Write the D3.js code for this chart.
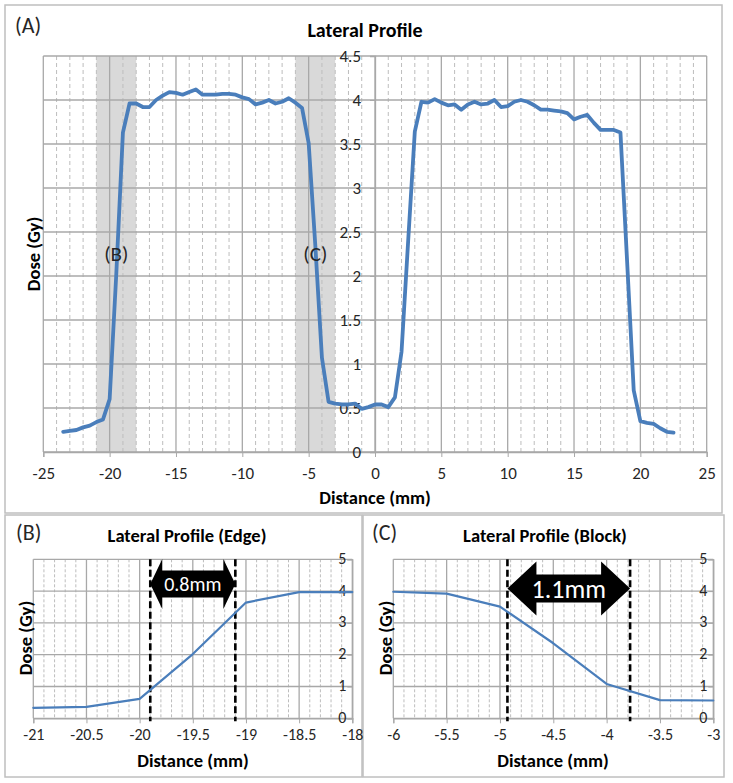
<!DOCTYPE html>
<html><head><meta charset="utf-8">
<script src="https://cdn.jsdelivr.net/npm/d3@7"></script>
<style>
body{margin:0;background:#fff;}
text{font-family:Carlito, Lato, "Open Sans", sans-serif;}
</style></head><body>
<svg id="chart" width="733" height="783"></svg>
<script>
// ---- data ----
const distance = [-23.5,-23,-22.5,-22,-21.5,-21,-20.5,-20,-19.5,-19,-18.5,-18,-17.5,-17,-16.5,-16,-15.5,-15,-14.5,-14,-13.5,-13,-12.5,-12,-11.5,-11,-10.5,-10,-9.5,-9,-8.5,-8,-7.5,-7,-6.5,-6,-5.5,-5,-4.5,-4,-3.5,-3,-2.5,-2,-1.5,-1,-0.5,0,0.5,1,1.5,2,2.5,3,3.5,4,4.5,5,5.5,6,6.5,7,7.5,8,8.5,9,9.5,10,10.5,11,11.5,12,12.5,13,13.5,14,14.5,15,15.5,16,16.5,17,17.5,18,18.5,19,19.5,20,20.5,21,21.5,22,22.5];
const dose = [0.23,0.24,0.25,0.28,0.30,0.34,0.37,0.60,2.02,3.63,3.96,3.96,3.92,3.92,4.00,4.05,4.09,4.08,4.06,4.09,4.12,4.06,4.06,4.06,4.07,4.07,4.06,4.03,4.01,3.95,3.97,4.00,3.96,3.98,4.02,3.97,3.91,3.51,2.35,1.07,0.57,0.55,0.54,0.54,0.55,0.49,0.51,0.54,0.54,0.51,0.62,1.14,2.40,3.64,3.98,3.97,4.01,3.97,3.94,3.95,3.89,3.95,3.98,3.95,3.96,4.00,3.92,3.93,3.98,4.00,3.98,3.94,3.89,3.89,3.88,3.87,3.85,3.78,3.81,3.83,3.74,3.66,3.66,3.66,3.63,2.17,0.70,0.35,0.33,0.32,0.27,0.23,0.22];
const shadedRegions = [[-21,-18],[-6,-3]];
const regionLabels = ["(B)","(C)"];
const regionLabelDose = 2.25;

const edgeDistance = [-21,-20.5,-20,-19.5,-19,-18.5,-18];
const edgeDose = [0.33,0.36,0.61,2.02,3.64,3.97,3.97];
const edgeMarkers = [-19.9,-19.1];
const edgeWidthLabel = "0.8mm";

const blockDistance = [-6,-5.5,-5,-4.5,-4,-3.5,-3];
const blockDose = [3.98,3.92,3.51,2.36,1.08,0.57,0.56];
const blockMarkers = [-4.93,-3.78];
const blockWidthLabel = "1.1mm";

const xTicksA = [-25,-20,-15,-10,-5,0,5,10,15,20,25];
const xMinorA = d3.range(-24,25,1);
const yTicksA = [0,0.5,1,1.5,2,2.5,3,3.5,4,4.5];
const xTicksB = [-21,-20.5,-20,-19.5,-19,-18.5,-18];
const xTicksC = [-6,-5.5,-5,-4.5,-4,-3.5,-3];
const yTicksBC = [0,1,2,3,4,5];

// ---- drawing ----
const svg = d3.select("#chart");
const LINE = "#4a7ebb";
const MAJ = "#a8a8a8", MIN = "#bdbdbd";
const TXT = "#262626";
const FONT = "Carlito, Lato, sans-serif";

function frame(x0,y0,x1,y1){
  svg.append("rect").attr("x",x0).attr("y",y0).attr("width",x1-x0).attr("height",y1-y0)
    .attr("fill","#fff").attr("stroke","#bfbfbf").attr("stroke-width",1.5);
}
function label(x,y,t,size,bold,opts={}){
  const el = svg.append("text").attr("fill",bold?"#000":TXT)
    .style("font-size",size+"px").style("font-weight",bold?"bold":"normal").text(t);
  if(opts.rotate){ el.attr("transform",`translate(${x},${y}) rotate(-90)`).attr("text-anchor","middle"); }
  else { el.attr("x",x).attr("y",y).attr("text-anchor",opts.anchor||"middle"); }
  return el;
}

function panel(o){
  const g = svg.append("g");
  const {x,y} = o;
  const [xa,xb] = x.domain(), [ya,yb] = y.domain();
  (o.shade||[]).forEach(r=>{
    g.append("rect").attr("x",x(r[0])).attr("y",y(yb)).attr("width",x(r[1])-x(r[0]))
      .attr("height",y(ya)-y(yb)).attr("fill","#d9d9d9");
  });
  g.selectAll(null).data(o.xMinor).enter().append("line")
    .attr("x1",d=>x(d)).attr("x2",d=>x(d)).attr("y1",y(yb)).attr("y2",y(ya))
    .attr("stroke",MIN).attr("stroke-width",1).attr("stroke-dasharray",o.minorDash);
  g.selectAll(null).data(o.xTicks).enter().append("line")
    .attr("x1",d=>x(d)).attr("x2",d=>x(d)).attr("y1",y(yb)).attr("y2",y(ya))
    .attr("stroke",MAJ).attr("stroke-width",1.3);
  g.selectAll(null).data(o.yTicks).enter().append("line")
    .attr("x1",x(xa)).attr("x2",x(xb)).attr("y1",d=>y(d)).attr("y2",d=>y(d))
    .attr("stroke",MAJ).attr("stroke-width",1.3);
  const xAxis = d3.axisBottom(x).tickValues(o.xTicks).tickSize(5).tickPadding(o.xPad)
    .tickFormat(d=>String(d));
  const ax = g.append("g").attr("transform",`translate(0,${y(0)})`).call(xAxis);
  ax.select(".domain").attr("stroke",MAJ).attr("stroke-width",1.3);
  ax.selectAll(".tick line").attr("stroke",MAJ);
  ax.selectAll("text").attr("fill",TXT).style("font-size",o.tickFont+"px").style("font-family",FONT);
  const yAxis = d3.axisLeft(y).tickValues(o.yTicks).tickSize(5).tickPadding(o.yPad)
    .tickFormat(d=>String(d));
  const ay = g.append("g").attr("transform",`translate(${x(o.yAxisAt)},0)`).call(yAxis);
  ay.select(".domain").attr("stroke",MAJ).attr("stroke-width",1.3);
  ay.selectAll(".tick line").attr("stroke",MAJ);
  ay.selectAll("text").attr("fill",TXT).style("font-size",o.tickFont+"px").style("font-family",FONT)
    .attr("dy",o.yDy||"0.32em");
  (o.markers||[]).forEach(m=>{
    g.append("line").attr("x1",x(m)).attr("x2",x(m)).attr("y1",y(yb)).attr("y2",y(ya)+3)
      .attr("stroke","#000").attr("stroke-width",2.6).attr("stroke-dasharray","7,3.5");
  });
  const data = o.xs.map((d,i)=>[d,o.ys[i]]);
  g.append("path").datum(data)
    .attr("d",d3.line().x(d=>x(d[0])).y(d=>y(d[1])))
    .attr("fill","none").attr("stroke",LINE).attr("stroke-width",o.lw)
    .attr("stroke-linejoin","round").attr("stroke-linecap","round");
  if(o.markers && o.arrow){
    const a = o.arrow;
    const L = x(o.markers[0]), R = x(o.markers[1]);
    const cy = y(a.center);
    const p = [[L,cy],[L+a.head,cy-a.hh],[L+a.head,cy-a.bh],[R-a.head,cy-a.bh],[R-a.head,cy-a.hh],
               [R,cy],[R-a.head,cy+a.hh],[R-a.head,cy+a.bh],[L+a.head,cy+a.bh],[L+a.head,cy+a.hh]];
    g.append("path").attr("d","M"+p.map(q=>q.join(",")).join("L")+"Z").attr("fill","#000");
    g.append("text").attr("x",(L+R)/2).attr("y",cy+a.dy).attr("text-anchor","middle")
      .attr("fill","#fff").style("font-size",a.font+"px").text(o.widthLabel);
  }
  return g;
}

frame(5,5,722,513);
frame(5,515,362,777);
frame(363,515,724,777);

// Panel A
const xA = d3.scaleLinear().domain([-25,25]).range([43.3,706.7]);
const yA = d3.scaleLinear().domain([0,4.5]).range([452,56]);
panel({x:xA,y:yA,xTicks:xTicksA,xMinor:xMinorA.filter(d=>d%5!==0),yTicks:yTicksA,
  shade:shadedRegions,minorDash:"4,3",xs:distance,ys:dose,lw:3.8,yAxisAt:0,yPad:9,xPad:10,tickFont:17});
regionLabels.forEach((t,i)=>{
  const r = shadedRegions[i];
  label(xA((r[0]+r[1])/2), yA(regionLabelDose)+7, t, 21, false);
});
label(365,37,"Lateral Profile",20,true);
label(15,33,"(A)",22,false,{anchor:"start"});
label(375,504,"Distance (mm)",18.5,true);
label(40,254,"Dose (Gy)",18.5,true,{rotate:true});

// Panel B
const xB = d3.scaleLinear().domain([-21,-18]).range([33.3,352.3]);
const yB = d3.scaleLinear().domain([0,5]).range([718.3,559.3]);
panel({x:xB,y:yB,xTicks:xTicksB,xMinor:d3.range(-20.9,-18,0.1).map(d=>+d.toFixed(1)).filter(d=>Math.abs(d*2-Math.round(d*2))>1e-6),
  yTicks:yTicksBC,minorDash:"3,2",xs:edgeDistance,ys:edgeDose,lw:2.2,yAxisAt:-18,yPad:1,xPad:5,tickFont:16,yDy:"0.25em",
  markers:edgeMarkers,widthLabel:edgeWidthLabel,arrow:{center:4.22,head:12,hh:25,bh:13.5,font:20,dy:7}});
label(187,542,"Lateral Profile (Edge)",18.5,true);
label(16,540,"(B)",22,false,{anchor:"start"});
label(193,767,"Distance (mm)",18.5,true);
label(32,638,"Dose (Gy)",18.5,true,{rotate:true});

// Panel C
const xC = d3.scaleLinear().domain([-6,-3]).range([393.3,713.3]);
const yC = d3.scaleLinear().domain([0,5]).range([718.3,559.3]);
panel({x:xC,y:yC,xTicks:xTicksC,xMinor:d3.range(-5.9,-3,0.1).map(d=>+d.toFixed(1)).filter(d=>Math.abs(d*2-Math.round(d*2))>1e-6),
  yTicks:yTicksBC,minorDash:"3,2",xs:blockDistance,ys:blockDose,lw:2.2,yAxisAt:-3,yPad:1,xPad:5,tickFont:16,yDy:"0.25em",
  markers:blockMarkers,widthLabel:blockWidthLabel,arrow:{center:4.08,head:29,hh:27,bh:14,font:26,dy:9}});
label(545,542,"Lateral Profile (Block)",18.5,true);
label(372,540,"(C)",22,false,{anchor:"start"});
label(553,767,"Distance (mm)",18.5,true);
label(392,638,"Dose (Gy)",18.5,true,{rotate:true});
</script>
</body></html>
